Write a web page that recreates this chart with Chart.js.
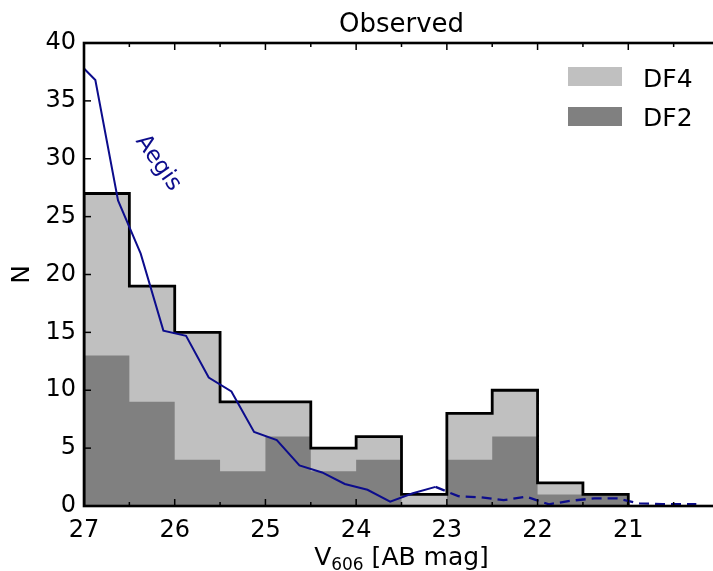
<!DOCTYPE html>
<html>
<head>
<meta charset="utf-8">
<script src="https://cdn.jsdelivr.net/npm/chart.js@4/dist/chart.umd.min.js"></script>
<style>
html,body{margin:0;padding:0;background:#fff;overflow:hidden;width:713px;height:571px;}
#wrap{position:absolute;left:0;top:0;width:722px;height:571px;}
</style>
</head>
<body>
<div id="wrap"><canvas id="c" width="722" height="571"></canvas></div>
<script>
// ---- data ----
const binEdges = [27, 26.5, 26, 25.5, 25, 24.5, 24, 23.5, 23, 22.5, 22, 21.5, 21];
const df2Counts = [13, 9, 4, 3, 6, 3, 4, 0, 4, 6, 1, 1];
const df4Counts = [14, 10, 11, 6, 3, 2, 2, 1, 4, 4, 1, 0];
const aegisSolidMag = [27.0, 26.875, 26.625, 26.375, 26.125, 25.875, 25.625, 25.375, 25.125, 24.875, 24.625, 24.375, 24.125, 23.875, 23.625, 23.375, 23.125];
const aegisSolidN   = [37.8, 36.8, 26.4, 21.8, 15.15, 14.7, 11.1, 9.9, 6.4, 5.7, 3.5, 2.9, 1.9, 1.4, 0.37, 1.1, 1.65];
const aegisDashMag = [23.125, 22.875, 22.625, 22.375, 22.125, 21.875, 21.625, 21.375, 21.125, 20.875, 20.625, 20.375, 20.25];
const aegisDashN   = [1.65, 0.85, 0.75, 0.5, 0.8, 0.15, 0.46, 0.66, 0.66, 0.22, 0.17, 0.15, 0.15];
const xTickStep = 1;
const yTicks = {min: 0, max: 40, step: 5};
const titleText = 'Observed';
const legendLabels = ['DF4', 'DF2'];
const aegisLabel = 'Aegis';

// ---- build stepped histogram points ----
function stepPoints(counts) {
  const pts = [{x: binEdges[0], y: 0}];
  binEdges.forEach((e, i) => pts.push({x: e, y: i < counts.length ? counts[i] : 0}));
  return pts;
}
const totalCounts = df2Counts.map((v, i) => v + df4Counts[i]);
const LIGHT = '#c0c0c0', DARK = '#808080', BLUE = '#0c0c8c';
const FONT = '"DejaVu Sans", sans-serif';

const decor = {
  id: 'decor',
  afterDatasetsDraw(chart) {
    const {ctx, chartArea: a, scales: {x, y}} = chart;
    ctx.save();
    const line = (x1, y1, x2, y2) => { ctx.beginPath(); ctx.moveTo(x1, y1); ctx.lineTo(x2, y2); ctx.stroke(); };
    ctx.strokeStyle = '#000'; ctx.lineWidth = 1.5;
    x.ticks.forEach(t => {
      const p = x.getPixelForValue(t.value);
      line(p, a.bottom, p, a.bottom - 7); line(p, a.top, p, a.top + 7);
      const m = t.value + xTickStep / 2;
      if (m <= x.max) {
        const pm = x.getPixelForValue(m);
        line(pm, a.bottom, pm, a.bottom - 4); line(pm, a.top, pm, a.top + 4);
      }
    });
    y.ticks.forEach(t => {
      const p = y.getPixelForValue(t.value);
      line(a.left, p, a.left + 7, p);
    });
    ctx.lineWidth = 2.6;
    ctx.strokeRect(a.left, a.top, a.right - a.left, a.bottom - a.top);

    ctx.fillStyle = '#000';
    const cx = (a.left + a.right) / 2;
    // title
    ctx.font = '26px ' + FONT; ctx.textAlign = 'center'; ctx.textBaseline = 'alphabetic';
    ctx.fillText(titleText, cx, 31.5);
    // x label with subscript
    const main = '25px ' + FONT, sub = '17px ' + FONT;
    ctx.font = main; const wV = ctx.measureText('V').width; const wRest = ctx.measureText(' [AB mag]').width;
    ctx.font = sub; const wSub = ctx.measureText('606').width;
    let sx = cx - (wV + wSub + wRest) / 2;
    ctx.textAlign = 'left';
    ctx.font = main; ctx.fillText('V', sx, 565);
    ctx.font = sub; ctx.fillText('606', sx + wV, 570);
    ctx.font = main; ctx.fillText(' [AB mag]', sx + wV + wSub, 565);
    // y label
    ctx.save(); ctx.translate(22, (a.top + a.bottom) / 2); ctx.rotate(-Math.PI / 2);
    ctx.font = '25px ' + FONT; ctx.textAlign = 'center'; ctx.textBaseline = 'middle';
    ctx.fillText('N', 0, 0); ctx.restore();
    // legend
    ctx.fillStyle = LIGHT; ctx.fillRect(568, 67, 54, 19);
    ctx.fillStyle = DARK; ctx.fillRect(568, 107, 54, 19);
    ctx.fillStyle = '#000'; ctx.font = '25px ' + FONT; ctx.textAlign = 'left'; ctx.textBaseline = 'alphabetic';
    ctx.fillText(legendLabels[0], 643, 86.5);
    ctx.fillText(legendLabels[1], 643, 125.5);
    // Aegis label
    ctx.save(); ctx.translate(158, 163); ctx.rotate(55 * Math.PI / 180);
    ctx.fillStyle = BLUE; ctx.font = '23px ' + FONT; ctx.textAlign = 'center'; ctx.textBaseline = 'middle';
    ctx.fillText(aegisLabel, 0, 0); ctx.restore();
    ctx.restore();
  }
};

new Chart(document.getElementById('c'), {
  type: 'line',
  data: {
    datasets: [
      {label: 'DF4', data: stepPoints(totalCounts), stepped: 'before', fill: 'origin', backgroundColor: LIGHT, borderWidth: 0, pointRadius: 0, order: 5},
      {label: 'DF2', data: stepPoints(df2Counts), stepped: 'before', fill: 'origin', backgroundColor: DARK, borderWidth: 0, pointRadius: 0, order: 4},
      {label: 'total', data: stepPoints(totalCounts), stepped: 'before', fill: false, borderColor: '#000', borderWidth: 2.8, pointRadius: 0, order: 3},
      {label: 'Aegis', data: aegisSolidMag.map((m, i) => ({x: m, y: aegisSolidN[i]})), fill: false, borderColor: BLUE, borderWidth: 2, pointRadius: 0, tension: 0, order: 2},
      {label: 'Aegis faint', data: aegisDashMag.map((m, i) => ({x: m, y: aegisDashN[i]})), fill: false, borderColor: BLUE, borderWidth: 2.3, borderDash: [10, 6], pointRadius: 0, tension: 0, order: 1}
    ]
  },
  options: {
    responsive: false,
    animation: false,
    devicePixelRatio: 1,
    layout: {padding: {top: 43, left: 0, right: 3, bottom: 0}},
    plugins: {legend: {display: false}, tooltip: {enabled: false}, title: {display: false}},
    scales: {
      x: {
        type: 'linear', reverse: true, min: 20, max: 27,
        ticks: {stepSize: xTickStep, color: '#000', font: {family: 'DejaVu Sans', size: 24}, padding: 10,
          callback: v => (v === 20 ? '' : String(v))},
        grid: {display: false, drawTicks: false}, border: {display: false},
        afterFit: s => { s.height = 65; s.paddingLeft = 0; s.paddingRight = 0; }
      },
      y: {
        min: yTicks.min, max: yTicks.max,
        ticks: {stepSize: yTicks.step, color: '#000', font: {family: 'DejaVu Sans', size: 24}, padding: 8},
        grid: {display: false, drawTicks: false}, border: {display: false},
        afterFit: s => { s.width = 84; s.paddingTop = 0; s.paddingBottom = 0; }
      }
    }
  },
  plugins: [decor]
});
</script>
</body>
</html>
